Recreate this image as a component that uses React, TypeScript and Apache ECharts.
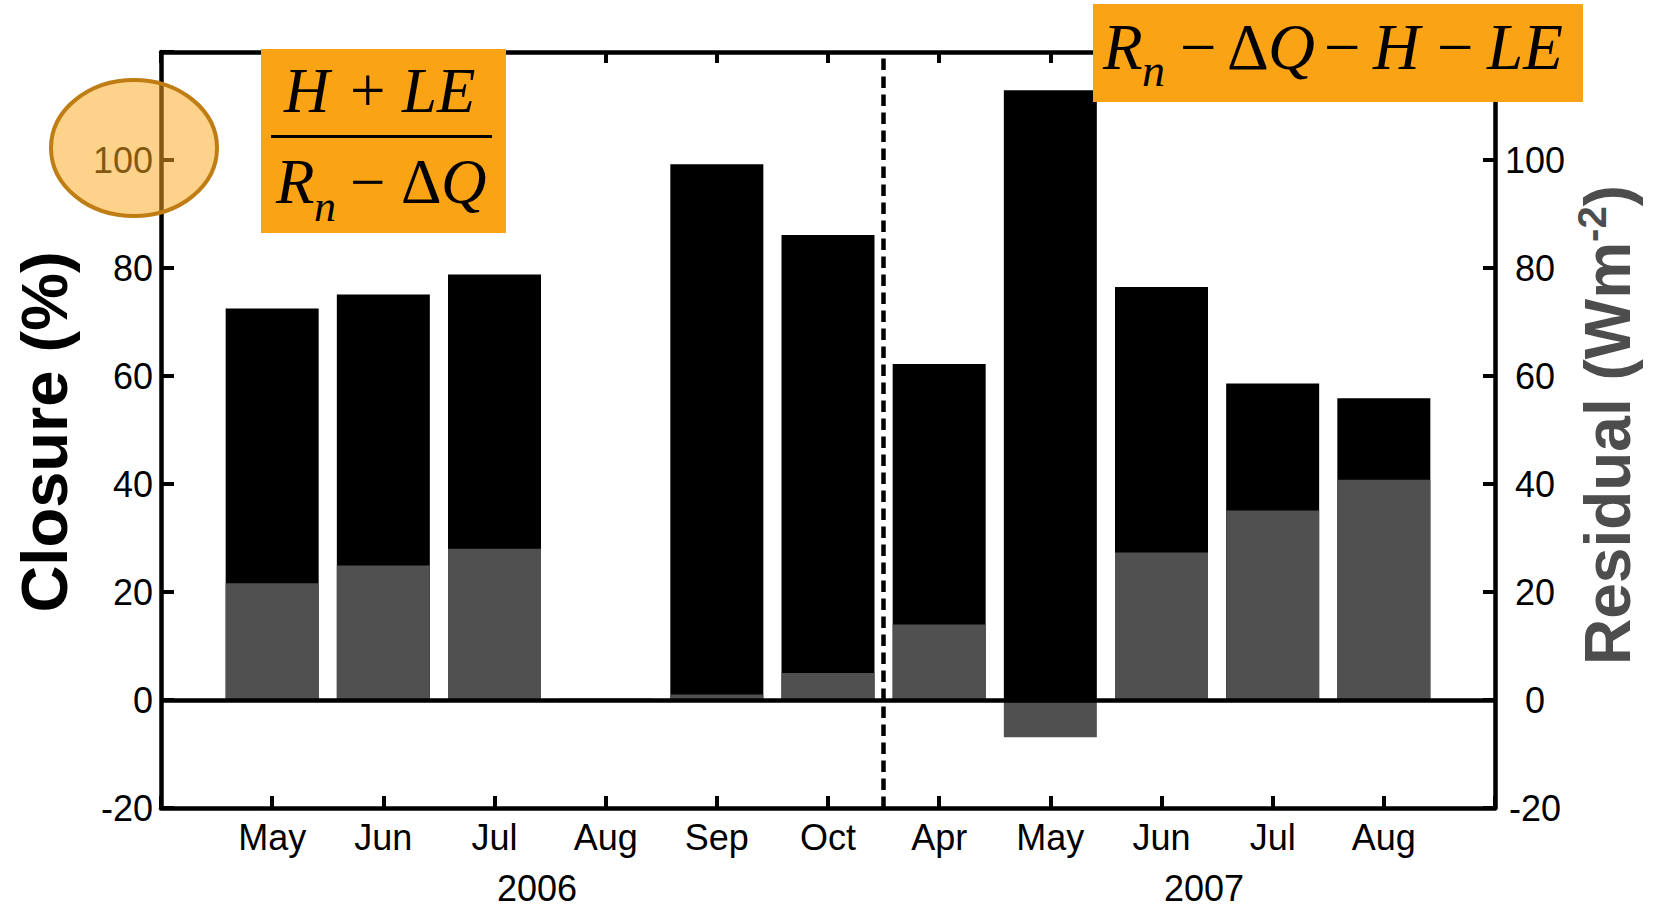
import React, { useEffect, useRef } from 'react';
import * as echarts from 'echarts';

// ---- data ----
const monthLabels = ['', 'May', 'Jun', 'Jul', 'Aug', 'Sep', 'Oct', 'Apr', 'May', 'Jun', 'Jul', 'Aug', ''];
const closurePct = [72.5, 75.1, 78.8, null, 99.2, 86.1, 62.2, 112.9, 76.5, 58.6, 55.9];
const residualW = [21.6, 24.9, 28.0, 0.3, 1.0, 5.0, 14.0, -6.9, 27.3, 35.1, 40.8];
const yearLabels = ['2006', '2007'];
const yMin = -20;
const yMax = 120;
const yStep = 20;
const separatorAt = 6.5;

const SANS = "'Liberation Sans', Arial, Helvetica, sans-serif";
const SERIF = "'Liberation Serif', 'Times New Roman', Times, serif";

function txt(text: string, x: number, y: number, size: number, italic: boolean, extra: any = {}) {
  return {
    type: 'text',
    x,
    y,
    z: 110,
    silent: true,
    style: {
      text,
      fontSize: size,
      fontFamily: SERIF,
      fontStyle: italic ? 'italic' : 'normal',
      fill: '#000',
      align: 'left',
      textAlign: 'left',
      verticalAlign: 'middle',
      textVerticalAlign: 'middle',
      ...extra,
    },
  };
}

export default function App() {
  const ref = useRef<HTMLDivElement>(null);

  useEffect(() => {
    document.body.style.margin = '0';
    if (!ref.current) return;
    const chart = echarts.init(ref.current, undefined, { renderer: 'svg' });

    const closureData = closurePct
      .map((v, i) => (v == null ? null : [i + 1, v]))
      .filter((d) => d !== null);
    const residualData = residualW.map((v, i) => [i + 1, v]);

    const axisLineStyle = { color: '#000', width: 4.5 };
    const tickStyle = { color: '#000', width: 4 };
    const labelStyle = { color: '#000', fontSize: 36, fontFamily: SANS };

    const option: any = {
      animation: false,
      textStyle: { fontFamily: SANS },
      grid: { left: 161, right: 164, top: 52, bottom: 100, containLabel: false },
      xAxis: [
        {
          type: 'value',
          min: 0,
          max: monthLabels.length - 1,
          interval: 1,
          position: 'bottom',
          axisLine: { show: true, onZero: false, lineStyle: axisLineStyle },
          axisTick: { show: true, inside: true, length: 12, lineStyle: tickStyle },
          splitLine: { show: false },
          axisLabel: {
            ...labelStyle,
            margin: 11,
            formatter: (v: number) => monthLabels[Math.round(v)] ?? '',
          },
        },
        {
          type: 'value',
          min: 0,
          max: monthLabels.length - 1,
          interval: 1,
          position: 'top',
          axisLine: { show: true, onZero: false, lineStyle: axisLineStyle },
          axisTick: { show: true, inside: true, length: 11, lineStyle: tickStyle },
          splitLine: { show: false },
          axisLabel: { show: false },
        },
      ],
      yAxis: [
        {
          type: 'value',
          min: yMin,
          max: yMax,
          interval: yStep,
          position: 'left',
          axisLine: { show: true, onZero: false, lineStyle: axisLineStyle },
          axisTick: { show: true, inside: true, length: 13, lineStyle: tickStyle },
          splitLine: { show: false },
          axisLabel: {
            ...labelStyle,
            margin: 8,
            formatter: (v: number) => (v === yMax ? '' : String(v)),
          },
        },
        {
          type: 'value',
          min: yMin,
          max: yMax,
          interval: yStep,
          position: 'right',
          axisLine: { show: true, onZero: false, lineStyle: axisLineStyle },
          axisTick: { show: true, inside: true, length: 12, lineStyle: tickStyle },
          splitLine: { show: false },
          axisLabel: {
            ...labelStyle,
            margin: 40,
            align: 'center',
            formatter: (v: number) => (v === yMax ? '' : String(v)),
          },
        },
      ],
      series: [
        {
          name: 'zero',
          type: 'line',
          data: [],
          z: 1,
          silent: true,
          markLine: {
            silent: true,
            symbol: 'none',
            label: { show: false },
            lineStyle: { color: '#000', width: 4.5, type: 'solid' },
            data: [{ yAxis: 0 }],
          },
        },
        {
          name: 'Closure (%)',
          type: 'bar',
          xAxisIndex: 0,
          yAxisIndex: 0,
          barWidth: 93,
          barGap: '-100%',
          z: 2,
          itemStyle: { color: '#000' },
          data: closureData,
          markLine: {
            silent: true,
            symbol: 'none',
            label: { show: false },
            lineStyle: { color: '#000', width: 4.5, type: [11.5, 6.5] },
            data: [{ xAxis: separatorAt }],
          },
        },
        {
          name: 'Residual',
          type: 'bar',
          xAxisIndex: 0,
          yAxisIndex: 1,
          barWidth: 93,
          barGap: '-100%',
          z: 3,
          itemStyle: { color: '#505050' },
          data: residualData,
        },
      ],
      graphic: [
        // year labels
        {
          type: 'text', x: 537, y: 888, z: 100, silent: true,
          style: { text: yearLabels[0], fontSize: 36, fontFamily: SANS, fill: '#000', align: 'center', textAlign: 'center', verticalAlign: 'middle', textVerticalAlign: 'middle' },
        },
        {
          type: 'text', x: 1204, y: 888, z: 100, silent: true,
          style: { text: yearLabels[1], fontSize: 36, fontFamily: SANS, fill: '#000', align: 'center', textAlign: 'center', verticalAlign: 'middle', textVerticalAlign: 'middle' },
        },
        // axis titles
        {
          type: 'text', x: 44, y: 432, rotation: Math.PI / 2, z: 100, silent: true,
          style: { text: 'Closure (%)', fontSize: 65, fontWeight: 'bold', fontFamily: SANS, fill: '#000', align: 'center', textAlign: 'center', verticalAlign: 'middle', textVerticalAlign: 'middle' },
        },
        {
          type: 'text', x: 1608, y: 425, rotation: Math.PI / 2, z: 100, silent: true,
          style: {
            text: '{a|Residual (Wm}{b|-2}{a|)}',
            fontFamily: SANS,
            align: 'center', textAlign: 'center', verticalAlign: 'middle', textVerticalAlign: 'middle',
            rich: {
              a: { fontSize: 64, fontWeight: 'bold', fontFamily: SANS, fill: '#4d4d4d', color: '#4d4d4d', lineHeight: 72 },
              b: { fontSize: 40, fontWeight: 'bold', fontFamily: SANS, fill: '#4d4d4d', color: '#4d4d4d', verticalAlign: 'top', lineHeight: 40 },
            },
          },
        },
        // highlight ellipse
        {
          type: 'ellipse', z: 120, silent: true,
          shape: { cx: 134, cy: 148, rx: 83, ry: 68 },
          style: { fill: 'rgba(251,171,33,0.52)', stroke: '#BF7D13', lineWidth: 4 },
        },
        // box 1
        {
          type: 'rect', z: 105, silent: true,
          shape: { x: 261, y: 49, width: 245, height: 184 },
          style: { fill: '#FAA315' },
        },
        txt('H', 284, 91, 63, true),
        txt('+', 350, 91, 63, false),
        txt('LE', 402, 91, 63, true),
        {
          type: 'rect', z: 110, silent: true,
          shape: { x: 271, y: 135, width: 221, height: 3 },
          style: { fill: '#000' },
        },
        txt('R', 276, 182, 63, true),
        txt('n', 314, 206, 44, true),
        txt('\u2212', 350, 182, 63, false),
        txt('\u0394', 401, 182, 63, false),
        txt('Q', 441, 182, 63, true),
        // box 2
        {
          type: 'rect', z: 105, silent: true,
          shape: { x: 1093, y: 4, width: 490, height: 98 },
          style: { fill: '#FAA315' },
        },
        txt('R', 1103, 47, 65, true),
        txt('n', 1142, 70, 46, true),
        txt('\u2212', 1180, 47, 65, false),
        txt('\u0394', 1227, 47, 65, false),
        txt('Q', 1268, 47, 65, true),
        txt('\u2212', 1324, 47, 65, false),
        txt('H', 1373, 47, 65, true),
        txt('\u2212', 1437, 47, 65, false),
        txt('LE', 1487, 47, 65, true),
      ],
    };

    chart.setOption(option);
    return () => chart.dispose();
  }, []);

  return <div ref={ref} style={{ width: 1659, height: 908 }} />;
}
